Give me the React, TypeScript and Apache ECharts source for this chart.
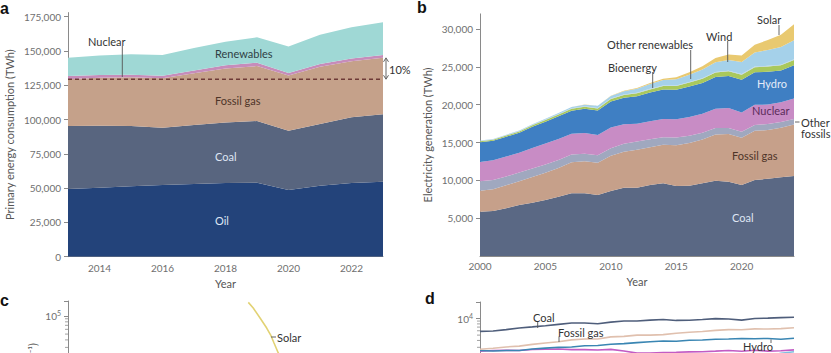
import { useEffect, useRef } from "react";
import * as echarts from "echarts";

// ---------- Panel a: primary energy consumption (TWh) ----------
const yearsA = ["2013", "2014", "2015", "2016", "2017", "2018", "2019", "2020", "2021", "2022", "2023"];
const oilA = [49300, 50300, 51300, 52200, 53000, 53700, 54000, 48600, 51700, 53700, 54700];
const coalA = [46000, 45200, 44000, 41800, 43000, 44200, 44900, 43300, 45000, 47900, 49100];
const gasA = [34100, 35000, 35500, 36200, 37700, 39400, 40100, 40300, 41800, 41000, 41200];
const nuclearA = [2300, 2000, 1900, 1800, 2000, 2300, 2500, 1800, 2100, 2000, 2100];
const renewA = [13300, 14200, 14900, 15100, 16400, 17200, 18500, 19200, 21200, 22700, 23800];

// ---------- Panel b / d: electricity generation (TWh) ----------
const yearsB = [
  "2000", "2001", "2002", "2003", "2004", "2005", "2006", "2007", "2008", "2009", "2010", "2011", "2012",
  "2013", "2014", "2015", "2016", "2017", "2018", "2019", "2020", "2021", "2022", "2023", "2024",
];
const coalB = [5860, 5950, 6300, 6740, 7050, 7400, 7840, 8280, 8280, 8060, 8600, 9030, 9030, 9380, 9600, 9250, 9300, 9600, 9960, 9820, 9380, 10040, 10200, 10400, 10570];
const gasB = [2760, 2880, 3050, 3150, 3400, 3600, 3800, 4100, 4250, 4250, 4650, 4750, 5000, 5000, 5100, 5400, 5650, 5800, 6100, 6300, 6250, 6500, 6450, 6550, 6800];
const otherFossilB = [1250, 1200, 1150, 1150, 1100, 1100, 1050, 1050, 1000, 1000, 1000, 1050, 1100, 1050, 1000, 1000, 950, 900, 850, 800, 780, 780, 800, 760, 750];
const nuclearB = [2540, 2620, 2650, 2620, 2740, 2760, 2790, 2720, 2720, 2680, 2750, 2580, 2350, 2370, 2410, 2440, 2480, 2500, 2560, 2630, 2550, 2660, 2560, 2600, 2700];
const hydroB = [2620, 2570, 2620, 2630, 2800, 2900, 3000, 3050, 3200, 3230, 3420, 3500, 3650, 3800, 3900, 3880, 4030, 4070, 4200, 4250, 4350, 4300, 4350, 4200, 4400];
const bioB = [140, 150, 160, 170, 190, 210, 230, 250, 270, 290, 330, 360, 390, 420, 460, 490, 520, 550, 580, 610, 640, 670, 680, 690, 700];
const otherRenB = [52, 53, 55, 56, 58, 60, 62, 63, 65, 67, 68, 70, 71, 72, 75, 77, 79, 82, 85, 88, 90, 92, 93, 95, 97];
const windB = [31, 38, 52, 63, 85, 104, 133, 171, 220, 276, 342, 437, 521, 635, 706, 831, 958, 1134, 1266, 1420, 1592, 1848, 2100, 2330, 2500];
const solarB = [1, 2, 2, 3, 3, 4, 6, 8, 12, 20, 32, 63, 99, 135, 190, 256, 329, 444, 571, 704, 855, 1040, 1310, 1630, 2130];

// ---------- Panel c: solar learning curve ----------
const solarCapC = [0.53, 0.76, 1.25, 2.03, 2.78, 3.47, 4.74, 7, 12];
const solarCostC = [169000, 136000, 92600, 63100, 47000, 35500, 24200, 17000, 12000];

const FONT = 'Lato, "Open Sans", sans-serif';
const AX = "#8a8a8a";
const LBL = "#6f6f6f";

function fmtThousands(v: number) {
  return Math.round(v).toLocaleString("en-US");
}
function fmtPow(v: number) {
  const l = Math.log10(v);
  const e = Math.round(l);
  if (Math.abs(l - e) < 1e-6) return `10{s|${e}}`;
  return "";
}
function logMinorTicks(lo: number, hi: number) {
  const out: number[] = [];
  for (let d = Math.floor(Math.log10(lo)); d <= Math.ceil(Math.log10(hi)); d++) {
    for (let k = 2; k <= 9; k++) {
      const v = k * Math.pow(10, d);
      if (v > lo && v < hi) out.push(v);
    }
  }
  return out;
}

export default function App() {
  const ref = useRef<HTMLDivElement>(null);
  useEffect(() => {
    const chart = echarts.init(ref.current!, null, { renderer: "svg" });
    const fossil2013 = oilA[0] + coalA[0] + gasA[0];
    const fossil2023 = oilA[10] + coalA[10] + gasA[10];

    const areaA = (name: string, data: number[], color: string) => ({
      name,
      type: "line",
      xAxisIndex: 0,
      yAxisIndex: 0,
      stack: "a",
      data,
      symbol: "none",
      lineStyle: { width: 0 },
      areaStyle: { color, opacity: 1 },
      silent: true,
    });
    const areaB = (name: string, data: number[], color: string) => ({
      name,
      type: "line",
      xAxisIndex: 1,
      yAxisIndex: 1,
      stack: "b",
      data,
      symbol: "none",
      lineStyle: { width: 0 },
      areaStyle: { color, opacity: 1 },
      silent: true,
    });
    const lineD = (name: string, data: number[], color: string) => ({
      name,
      type: "line",
      xAxisIndex: 3,
      yAxisIndex: 3,
      data,
      symbol: "none",
      lineStyle: { width: 1.6, color },
      silent: true,
    });

    const axisLine = { show: true, lineStyle: { color: AX, width: 1 } };
    const axisLabel = { color: LBL, fontSize: 10, fontFamily: FONT };
    const powLabel = {
      color: LBL,
      fontSize: 10,
      fontFamily: FONT,
      formatter: fmtPow,
      rich: { s: { fontSize: 7, verticalAlign: "top", padding: [0, 0, 6, 0], color: LBL, fontFamily: FONT } },
    };

    const txt = (x: number, y: number, text: string, fill = "#333", size = 11, extra: any = {}) => ({
      type: "text",
      x,
      y,
      z: 100,
      silent: true,
      style: { text, fill, fontSize: size, fontFamily: FONT, verticalAlign: "middle", align: "left", ...extra },
    });
    const seg = (x1: number, y1: number, x2: number, y2: number, stroke = "#555", w = 0.9) => ({
      type: "line",
      z: 100,
      silent: true,
      shape: { x1, y1, x2, y2 },
      style: { stroke, lineWidth: w },
    });

    const gridC = { left: 68, top: 301, width: 315, height: 195 };
    const gridD = { left: 480, top: 302, width: 314, height: 181.6 };
    const cMin = 100, cMax = 178000, dMin = 10, dMax = 20000;

    const option: any = {
      animation: false,
      textStyle: { fontFamily: FONT },
      grid: [
        { left: 68, top: 12.6, width: 315, height: 244.1, outerBoundsMode: "none", containLabel: false },
        { left: 480, top: 13.9, width: 314, height: 242.1, outerBoundsMode: "none", containLabel: false },
        { ...gridC, outerBoundsMode: "none", containLabel: false },
        { ...gridD, outerBoundsMode: "none", containLabel: false },
      ],
      xAxis: [
        {
          gridIndex: 0,
          type: "category",
          boundaryGap: false,
          data: yearsA,
          axisLine,
          axisTick: { show: false },
          axisLabel: { ...axisLabel, margin: 6, interval: (_i: number, v: string) => Number(v) % 2 === 0 },
          name: "Year",
          nameLocation: "middle",
          nameGap: 18,
          nameTextStyle: { color: "#555", fontSize: 11, fontFamily: FONT },
        },
        {
          gridIndex: 1,
          type: "category",
          boundaryGap: false,
          data: yearsB,
          axisLine,
          axisTick: { show: false },
          axisLabel: { ...axisLabel, margin: 5, interval: (_i: number, v: string) => Number(v) % 5 === 0 },
          name: "Year",
          nameLocation: "middle",
          nameGap: 15,
          nameTextStyle: { color: "#555", fontSize: 11, fontFamily: FONT },
        },
        {
          gridIndex: 2,
          type: "log",
          min: 1e-6,
          max: 1e4,
          axisLine,
          axisTick: { show: false },
          axisLabel: { show: false },
          splitLine: { show: false },
        },
        {
          gridIndex: 3,
          type: "category",
          boundaryGap: false,
          data: yearsB,
          axisLine,
          axisTick: { show: false },
          axisLabel: { show: false },
        },
      ],
      yAxis: [
        {
          gridIndex: 0,
          type: "value",
          min: 0,
          max: 178000,
          interval: 25000,
          axisLine,
          axisTick: { show: true, length: 4, lineStyle: { color: AX } },
          axisLabel: { ...axisLabel, margin: 7, showMaxLabel: false, formatter: fmtThousands },
          splitLine: { show: false },
          name: "Primary energy consumption (TWh)",
          nameLocation: "middle",
          nameGap: 53,
          nameTextStyle: { color: "#555", fontSize: 11, fontFamily: FONT },
        },
        {
          gridIndex: 1,
          type: "value",
          min: 0,
          max: 32000,
          interval: 5000,
          axisLine,
          axisTick: { show: true, length: 4, lineStyle: { color: AX } },
          axisLabel: { ...axisLabel, margin: 7, showMaxLabel: false, showMinLabel: false, formatter: fmtThousands },
          splitLine: { show: false },
          name: "Electricity generation (TWh)",
          nameLocation: "middle",
          nameGap: 47,
          nameTextStyle: { color: "#555", fontSize: 11, fontFamily: FONT },
        },
        {
          gridIndex: 2,
          type: "log",
          min: cMin,
          max: cMax,
          axisLine,
          axisTick: { show: true, length: 4, lineStyle: { color: AX } },
          axisLabel: { ...powLabel, margin: 7 },
          splitLine: { show: false },
        },
        {
          gridIndex: 3,
          type: "log",
          min: dMin,
          max: dMax,
          axisLine,
          axisTick: { show: true, length: 4, lineStyle: { color: AX } },
          axisLabel: { ...powLabel, margin: 7 },
          splitLine: { show: false },
        },
      ],
      series: [
        areaA("Oil", oilA, "#23437a"),
        areaA("Coal", coalA, "#58657f"),
        areaA("Fossil gas", gasA, "#c5a18a"),
        areaA("Nuclear", nuclearA, "#c68cba"),
        areaA("Renewables", renewA, "#9fd8d5"),
        {
          name: "2013 fossil level",
          type: "line",
          xAxisIndex: 0,
          yAxisIndex: 0,
          data: yearsA.map(() => fossil2013),
          symbol: "none",
          lineStyle: { color: "#6e3a36", width: 1.3, type: [4, 3] },
          silent: true,
          z: 5,
        },
        areaB("Coal", coalB, "#5a6884"),
        areaB("Fossil gas", gasB, "#c6a08a"),
        areaB("Other fossils", otherFossilB, "#a0a8bf"),
        areaB("Nuclear", nuclearB, "#c88cc5"),
        areaB("Hydro", hydroB, "#3f7fc3"),
        areaB("Bioenergy", bioB, "#a9c85c"),
        areaB("Other renewables", otherRenB, "#b9d0df"),
        areaB("Wind", windB, "#a5d1ea"),
        areaB("Solar", solarB, "#e9c970"),
        {
          name: "Solar cost",
          type: "line",
          xAxisIndex: 2,
          yAxisIndex: 2,
          data: solarCapC.map((c, i) => [c, solarCostC[i]]),
          symbol: "none",
          lineStyle: { width: 1.6, color: "#e2d274" },
          silent: true,
        },
        lineD("Solar", solarB, "#e5cf6a"),
        lineD("Wind", windB, "#7fbfe0"),
        lineD("Other renewables", otherRenB, "#b9d0df"),
        lineD("Bioenergy", bioB, "#a9c85c"),
        lineD("Other fossils", otherFossilB, "#a0a8bf"),
        lineD("Nuclear", nuclearB, "#c25cc4"),
        lineD("Hydro", hydroB, "#3a86b3"),
        lineD("Fossil gas", gasB, "#e0c0ae"),
        lineD("Coal", coalB, "#4f5e7b"),
      ],
    };
    chart.setOption(option);

    const top = chart.convertToPixel({ xAxisIndex: 0, yAxisIndex: 0 }, [10, fossil2023]) as number[];
    const base = chart.convertToPixel({ xAxisIndex: 0, yAxisIndex: 0 }, [10, fossil2013]) as number[];
    const ax = top[0] + 3;
    const arrowColor = "#555";

    // minor log ticks placed through the log axes' own scales
    const minorTicks: any[] = [];
    logMinorTicks(cMin, cMax).forEach((v) => {
      const p = chart.convertToPixel({ xAxisIndex: 2, yAxisIndex: 2 }, [1, v]) as number[];
      if (p && isFinite(p[1]) && p[1] < 360) minorTicks.push(seg(gridC.left - 3, p[1], gridC.left, p[1], AX, 0.8));
    });
    logMinorTicks(dMin, dMax).forEach((v) => {
      const p = chart.convertToPixel({ xAxisIndex: 3, yAxisIndex: 3 }, [0, v]) as number[];
      if (p && isFinite(p[1]) && p[1] < 360) minorTicks.push(seg(gridD.left - 3, p[1], gridD.left, p[1], AX, 0.8));
    });

    const graphics: any[] = [
      ...minorTicks,
      // panel letters
      txt(0, 8, "a", "#111", 16, { fontWeight: "bold", fontFamily: "Arial, sans-serif" }),
      txt(417, 7, "b", "#111", 16, { fontWeight: "bold", fontFamily: "Arial, sans-serif" }),
      txt(0, 300, "c", "#111", 16, { fontWeight: "bold", fontFamily: "Arial, sans-serif" }),
      txt(425, 298, "d", "#111", 16, { fontWeight: "bold", fontFamily: "Arial, sans-serif" }),
      // panel a labels
      txt(88, 41, "Nuclear", "#333"),
      seg(122.3, 46, 122.3, 77),
      txt(215, 53, "Renewables", "#2f3f45"),
      txt(215, 100, "Fossil gas", "#4e3428"),
      txt(215, 156, "Coal", "#dfe6f4"),
      txt(215, 220, "Oil", "#dfe6f4"),
      txt(389, 69, "10%", "#333"),
      seg(ax, top[1] + 1, ax, base[1] - 1, arrowColor),
      {
        type: "polyline",
        z: 100,
        silent: true,
        shape: { points: [[ax - 2.5, top[1] + 4], [ax, top[1]], [ax + 2.5, top[1] + 4]] },
        style: { stroke: arrowColor, lineWidth: 0.9, fill: "none" },
      },
      {
        type: "polyline",
        z: 100,
        silent: true,
        shape: { points: [[ax - 2.5, base[1] - 4], [ax, base[1]], [ax + 2.5, base[1] - 4]] },
        style: { stroke: arrowColor, lineWidth: 0.9, fill: "none" },
      },
      // panel b labels
      txt(757, 19, "Solar", "#333"),
      seg(779, 25, 779, 35),
      txt(706, 36, "Wind", "#333"),
      seg(727.7, 41, 727.7, 62),
      txt(607, 44, "Other renewables", "#333"),
      seg(690.7, 50, 690.7, 79),
      txt(608, 67, "Bioenergy", "#333"),
      seg(652.7, 72, 652.7, 88),
      txt(757, 83, "Hydro", "#e3ebf8"),
      txt(752, 110, "Nuclear", "#5b2b5a"),
      txt(801, 122, "Other", "#333"),
      txt(801, 133.5, "fossils", "#333"),
      seg(795, 122, 799.5, 122),
      txt(732, 155, "Fossil gas", "#4e3428"),
      txt(732, 217, "Coal", "#dfe6f4"),
      // panel c
      txt(277, 337, "Solar", "#333"),
      seg(271, 337, 276, 337),
      {
        type: "text",
        x: 32,
        y: 343,
        z: 100,
        rotation: Math.PI / 2,
        silent: true,
        style: {
          text: "Cost (2023 US$ kW\u207B\u00B9)",
          fill: "#555",
          fontSize: 11,
          fontFamily: FONT,
          align: "right",
          verticalAlign: "middle",
        },
      },
      // panel d
      txt(533, 317, "Coal", "#333"),
      seg(537.7, 322, 537.7, 328),
      txt(558, 332, "Fossil gas", "#333"),
      seg(559, 336.5, 559, 342),
      txt(743, 346, "Hydro", "#333"),
      seg(771, 339.5, 771, 343),
    ];
    chart.setOption({ graphic: graphics });

    return () => chart.dispose();
  }, []);
  return (
    <div
      ref={ref}
      style={{ position: "fixed", left: 0, top: 0, width: 831, height: 353, background: "#fff" }}
    />
  );
}
